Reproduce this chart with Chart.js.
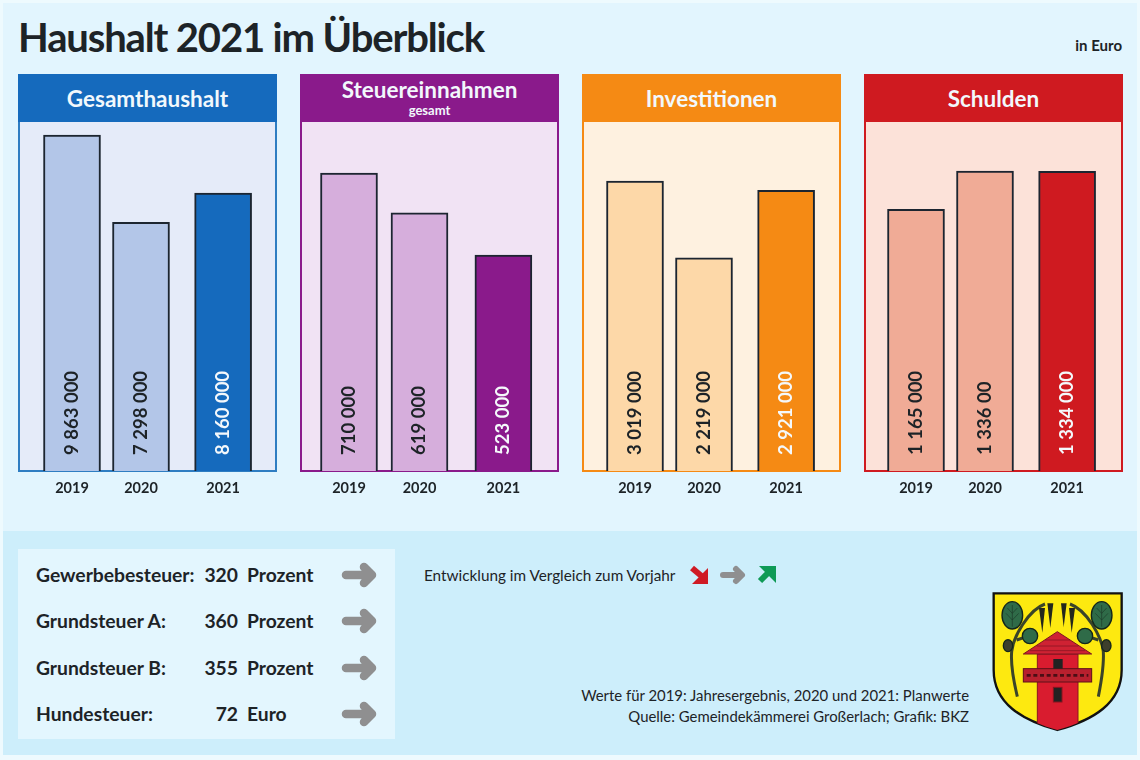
<!DOCTYPE html>
<html lang="de">
<head>
<meta charset="UTF-8" />
<title>Haushalt 2021 im Überblick</title>
<script src="https://cdn.jsdelivr.net/npm/chart.js"></script>
<style>
  html, body { margin: 0; padding: 0; }
  body { width: 1140px; height: 760px; position: relative; overflow: hidden; background: #eefafe; font-family: Lato, sans-serif; color: #1d2327; }
  .band { position: absolute; left: 3px; width: 1134px; }
  .abs { position: absolute; white-space: nowrap; }
  h1 { position: absolute; left: 18px; top: 13px; margin: 0; font-size: 40px; line-height: 48px; font-weight: 700; letter-spacing: -1.15px; }
  .panel { position: absolute; top: 74px; width: 259px; height: 398px; box-sizing: border-box; border: 2px solid; }
  .head { position: absolute; left: -2px; right: -2px; top: -2px; height: 48px; color: #f2f8fc; text-align: center; font-weight: 700; font-size: 22.5px; line-height: 50px; }
  .head.two { line-height: 28px; padding-top: 2px; height: 46px; }
  .head small { display: block; font-size: 13px; line-height: 12px; font-weight: 700; }
  canvas { position: absolute; }
  .tax { font-size: 19.3px; font-weight: 700; line-height: 24px; }
  .note { font-size: 14.9px; line-height: 21px; text-align: right; }
</style>
</head>
<body>
<div class="band" style="top:3px;height:528px;background:#e2f5fe"></div>
<div class="band" style="top:531px;height:224px;background:#cdeefb"></div>
<div class="abs" style="left:18px;top:549px;width:377px;height:190px;background:#e3f6fe"></div>

<h1>Haushalt 2021 im Überblick</h1>
<div class="abs" style="right:18px;top:36px;font-size:15px;font-weight:700;line-height:18px">in Euro</div>

<div id="panels"></div>
<div id="taxes"></div>

<div class="abs" style="left:424px;top:564px;font-size:15.3px;line-height:22px">Entwicklung im Vergleich zum Vorjahr</div>
<svg class="abs" style="left:685px;top:560px" width="100" height="30" viewBox="0 0 100 30">
  <g fill="none" stroke-width="6">
    <path d="M7 8 L20 19" stroke="#cf1a24"/>
    <path d="M38 15 H55" stroke="#8f8f90" stroke-linecap="round"/>
    <path d="M75 21 L87 9" stroke="#0f9a56"/>
    <path d="M51 9 L57 15 L51 21" stroke="#8f8f90" stroke-linecap="round" stroke-linejoin="round"/>
  </g>
  <path d="M23 8 V24 H7 Z" fill="#cf1a24"/>
  <path d="M74 6 H91 V23 Z" fill="#0f9a56"/>
</svg>

<div class="abs note" style="right:171px;top:685px">Werte für 2019: Jahresergebnis, 2020 und 2021: Planwerte<br>Quelle: Gemeindekämmerei Großerlach; Grafik: BKZ</div>

<svg class="abs" style="left:980px;top:580px" width="150" height="160" viewBox="0 0 450 480">
  <defs><clipPath id="sh"><path d="M41 40 H425 V270 C425 370 340 420 232 450 C125 420 41 370 41 270 Z"/></clipPath></defs>
  <path d="M41 40 H425 V270 C425 370 340 420 232 450 C125 420 41 370 41 270 Z" fill="#fde910" stroke="#111" stroke-width="7"/>
  <g fill="none" stroke="#3a4429" stroke-width="9">
    <path d="M112 350 C100 300 92 250 95 215 C100 170 145 90 195 72"/>
    <path d="M355 350 C365 300 372 250 370 215 C365 170 320 90 270 72"/>
    <path d="M110 180 L140 170 M355 180 L325 170"/>
  </g>
  <g fill="#2f6b48" stroke="#14261b" stroke-width="4">
    <ellipse cx="97" cy="106" rx="31" ry="41"/>
    <ellipse cx="365" cy="106" rx="31" ry="41"/>
    <ellipse cx="150" cy="168" rx="23" ry="23"/>
    <ellipse cx="315" cy="168" rx="23" ry="23"/>
    <ellipse cx="84" cy="197" rx="14" ry="18" fill="#3d3f2c"/>
    <ellipse cx="379" cy="197" rx="14" ry="18" fill="#3d3f2c"/>
  </g>
  <g fill="none" stroke="#1d3a28" stroke-width="2">
    <path d="M97 140 V75 M97 120 L78 100 M97 120 L116 100 M97 100 L82 84 M97 100 L112 84"/>
    <path d="M365 140 V75 M365 120 L346 100 M365 120 L384 100 M365 100 L350 84 M365 100 L380 84"/>
  </g>
  <g fill="#23261c">
    <path d="M177 84 L195 84 L187 158 Z"/>
    <path d="M202 70 L220 70 L211 144 Z"/>
    <path d="M243 70 L260 70 L251 142 Z"/>
    <path d="M267 84 L285 84 L275 158 Z"/>
  </g>
  <g clip-path="url(#sh)">
    <rect x="172" y="222" width="122" height="235" fill="#d91c2f" stroke="#8a1420" stroke-width="3"/>
  </g>
  <path d="M130 222 L232 155 L335 222 Z" fill="#cf2233" stroke="#7a1420" stroke-width="3"/>
  <path d="M195 180 H270 M170 198 H295 M150 212 H315" stroke="#7a1420" stroke-width="2" fill="none"/>
  <rect x="130" y="266" width="205" height="40" fill="#b8202e" stroke="#5e1019" stroke-width="3"/>
  <path d="M140 286 H325" stroke="#4b0e15" stroke-width="8" stroke-dasharray="12 8"/>
  <rect x="220" y="237" width="28" height="29" fill="#222"/>
  <rect x="220" y="322" width="26" height="44" fill="#222" stroke="#86141f" stroke-width="3"/>
</svg>

<script>
// Werte aus der Grafik
const years = ['2019', '2020', '2021'];
const gesamthaushalt = [9863000, 7298000, 8160000];
const steuereinnahmen = [710000, 619000, 523000];
const investitionen = [3019000, 2219000, 2921000];
const schulden = [1165000, 1336000, 1334000];
// im Original fehlt bei 2020 eine Null
const schuldenLabels = ['1 165 000', '1 336 00', '1 334 000'];

const taxNames = ['Gewerbebesteuer:', 'Grundsteuer A:', 'Grundsteuer B:', 'Hundesteuer:'];
const taxValues = [320, 360, 355, 72];
const taxUnits = ['Prozent', 'Prozent', 'Prozent', 'Euro'];

// 2021 steht im Original etwas abgesetzt
const yearSlots = [0, 1, 2.19];

const panels = [
  { title: 'Gesamthaushalt', data: gesamthaushalt, left: 18, firstBar: 54, slot: 69, yMin: 0, yMax: 10244000,
    main: '#156abd', pale: '#e5ebf9', light: '#b3c6e8', edge: '#2e7dc2' },
  { title: 'Steuereinnahmen', sub: 'gesamt', data: steuereinnahmen, left: 300, firstBar: 49, slot: 70.5, yMin: 30400, yMax: 826300,
    main: '#8a1a8b', pale: '#f1e3f4', light: '#d6aedc', edge: '#8a1a8b' },
  { title: 'Investitionen', data: investitionen, left: 582, firstBar: 53, slot: 69, yMin: 0, yMax: 3633000,
    main: '#f58a14', pale: '#fef1e0', light: '#fdd8a8', edge: '#f58a14' },
  { title: 'Schulden', data: schulden, labels: schuldenLabels, left: 864, firstBar: 52, slot: 69, yMin: 0, yMax: 1554000,
    main: '#cf1a20', pale: '#fce2d9', light: '#f0ab96', edge: '#cf1a20' }
];

function fmt(v) {
  return String(v).replace(/\B(?=(\d{3})+$)/g, ' ');
}

// Zahlen senkrecht in die Balken schreiben
const barValues = {
  id: 'barValues',
  afterDatasetsDraw(chart) {
    const ctx = chart.ctx;
    const ds = chart.data.datasets[0];
    const texts = chart.options.plugins.barValues.labels;
    chart.getDatasetMeta(0).data.forEach((bar, i) => {
      ctx.save();
      ctx.translate(bar.x, chart.scales.y.bottom - 16);
      ctx.rotate(-Math.PI / 2);
      ctx.fillStyle = i === 2 ? '#f4f8fb' : '#1d2327';
      ctx.font = '700 18.5px Lato, sans-serif';
      ctx.textAlign = 'left';
      ctx.textBaseline = 'middle';
      ctx.fillText(texts ? texts[i] : fmt(ds.data[i].y), 0, 0);
      ctx.restore();
    });
  }
};

const W = 260;
const root = document.getElementById('panels');

panels.forEach(p => {
  const box = document.createElement('div');
  box.className = 'panel';
  box.style.left = p.left + 'px';
  box.style.background = p.pale;
  box.style.borderColor = p.edge;
  box.innerHTML = '<div class="head' + (p.sub ? ' two' : '') + '" style="background:' + p.main + '">' + p.title +
    (p.sub ? '<small>' + p.sub + '</small>' : '') + '</div>';
  root.appendChild(box);

  const cv = document.createElement('canvas');
  cv.style.left = p.left + 'px';
  cv.style.top = '122px';
  cv.style.width = W + 'px';
  cv.style.height = '382px';
  cv.width = W;
  cv.height = 382;
  root.appendChild(cv);

  new Chart(cv, {
    type: 'bar',
    data: {
      datasets: [{
        data: p.data.map((v, i) => ({ x: yearSlots[i], y: v })),
        backgroundColor: [p.light, p.light, p.main],
        borderColor: '#1c2530',
        borderWidth: 2,
        borderSkipped: 'bottom',
        barThickness: 57
      }]
    },
    options: {
      responsive: false,
      animation: false,
      devicePixelRatio: 1,
      layout: { padding: 0 },
      plugins: {
        legend: { display: false },
        tooltip: { enabled: false },
        title: { display: false },
        barValues: { labels: p.labels }
      },
      scales: {
        x: {
          type: 'linear',
          offset: false,
          min: -p.firstBar / p.slot,
          max: (W - p.firstBar) / p.slot,
          grid: { display: false },
          border: { display: false },
          afterBuildTicks: s => { s.ticks = yearSlots.map(v => ({ value: v })); },
          afterFit: s => { s.height = 33; },
          ticks: {
            autoSkip: false,
            maxRotation: 0,
            padding: 1,
            color: '#1d2327',
            font: { family: 'Lato, sans-serif', size: 14.5, weight: '700' },
            callback: (v, i) => years[i]
          }
        },
        y: { display: false, min: p.yMin, max: p.yMax }
      }
    },
    plugins: [barValues]
  });
});

// Steuersaetze links unten
const taxBox = document.getElementById('taxes');
taxNames.forEach((name, i) => {
  const y = 563 + i * 46.4;
  taxBox.insertAdjacentHTML('beforeend',
    '<div class="abs tax" style="left:36px;top:' + y + 'px">' + name + '</div>' +
    '<div class="abs tax" style="left:188px;width:50px;text-align:right;top:' + y + 'px">' + taxValues[i] + '</div>' +
    '<div class="abs tax" style="left:247px;top:' + y + 'px">' + taxUnits[i] + '</div>' +
    '<svg class="abs" style="left:340px;top:' + (y - 2) + 'px" width="40" height="28" viewBox="0 0 40 28">' +
    '<path d="M6 14 H31 M24 6 L32 14 L24 22" fill="none" stroke="#8f8f90" stroke-width="8.5" stroke-linecap="round" stroke-linejoin="round"/></svg>');
});
</script>
</body>
</html>
